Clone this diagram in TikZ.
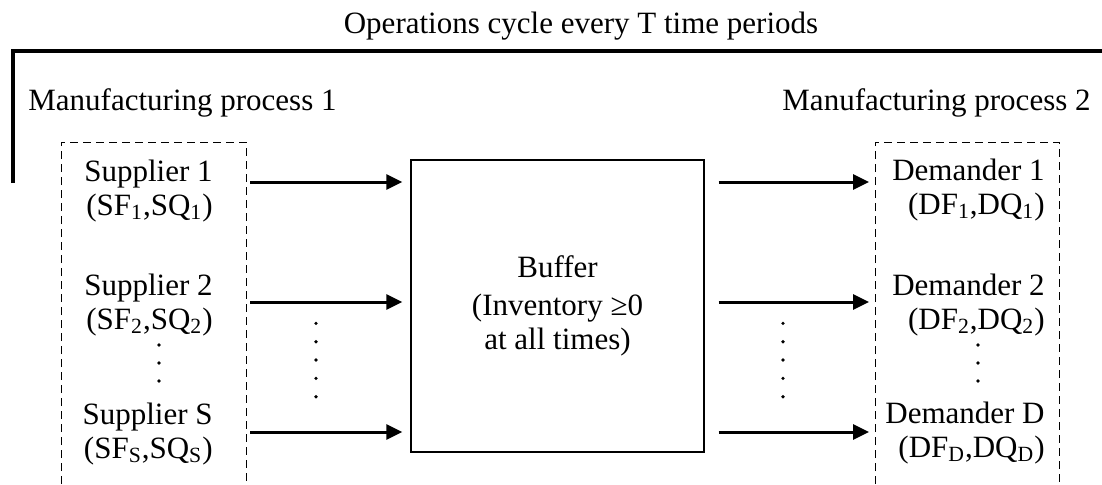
\documentclass[tikz,border=0pt]{standalone}
\usepackage{fontspec}
\setmainfont{Liberation Serif}
\usetikzlibrary{arrows.meta}
\tikzset{
  lbl/.style={inner sep=0pt, align=right},
  grp/.style={line width=0.5pt, dash pattern=on 4pt off 2.5pt},
  bufbox/.style={draw, line width=0.7pt, minimum width=146.5pt, minimum height=146pt, align=center, inner sep=0pt},
  arr/.style={line width=1.5pt, -{Triangle[length=8pt,width=7.5pt]}},
  bracket/.style={line width=2pt},
  dotmark/.style={fill, circle, inner sep=0pt, minimum size=1.8pt}
}
\begin{document}
\begin{tikzpicture}[x=0.5pt,y=-0.5pt, font=\fontsize{15.5}{17}\selectfont]
\useasboundingbox (0,0) rectangle (1102,484);
% title and bracket
\node[inner sep=0pt, anchor=base] (title) at (581,33) {Operations cycle every T time periods};
\draw[bracket] (13,183) -- (13,51) -- (1102,51);
\node[inner sep=0pt, anchor=base west] (mp1) at (28,110) {Manufacturing process 1};
\node[inner sep=0pt, anchor=base east] (mp2) at (1091,110) {Manufacturing process 2};
% dashed groups (open at bottom)
\draw[grp] (61,484) |- (246,142) -- (246,484);
\draw[grp] (875,484) |- (1059,142) -- (1059,484);
% buffer
\node[bufbox] (buffer) at (557.5,306) {Buffer\\[2pt](Inventory ≥0\\at all times)};
% suppliers (anchor at baseline of last line)
\node[lbl, anchor=base east] (s1) at (213,215) {Supplier 1\\(SF\textsubscript{1},SQ\textsubscript{1})};
\node[lbl, anchor=base east] (s2) at (213,329) {Supplier 2\\(SF\textsubscript{2},SQ\textsubscript{2})};
\node[lbl, anchor=base east] (sS) at (213,458) {Supplier S\\(SF\textsubscript{S},SQ\textsubscript{S})};
% demanders
\node[lbl, anchor=base east] (d1) at (1045,214) {Demander 1\\(DF\textsubscript{1},DQ\textsubscript{1})};
\node[lbl, anchor=base east] (d2) at (1045,329) {Demander 2\\(DF\textsubscript{2},DQ\textsubscript{2})};
\node[lbl, anchor=base east] (dD) at (1045,457) {Demander D\\(DF\textsubscript{D},DQ\textsubscript{D})};
% arrow anchor points on the dashed groups
\coordinate (la1) at (246,182);
\coordinate (la2) at (246,302);
\coordinate (laS) at (246,432);
\coordinate (ra1) at (875,182);
\coordinate (ra2) at (875,302);
\coordinate (raD) at (875,432);
\foreach \c in {la1,la2,laS}
  \draw[arr, shorten <=2pt, shorten >=4pt] (\c) -- (\c -| buffer.west);
\foreach \c in {ra1,ra2,raD}
  \draw[arr, shorten <=7pt, shorten >=3pt] (\c -| buffer.east) -- (\c);
% dots
\foreach \y [count=\i] in {323.3,341.7,360,378.3,396.7} {
  \node[dotmark] (ldot\i) at (316,\y) {};
  \node[dotmark] (rdot\i) at (783,\y) {};
}
\foreach \y [count=\i] in {345,363,381} {
  \node[dotmark] (sdot\i) at (159,\y) {};
  \node[dotmark] (ddot\i) at (978,\y) {};
}
\end{tikzpicture}
\end{document}
